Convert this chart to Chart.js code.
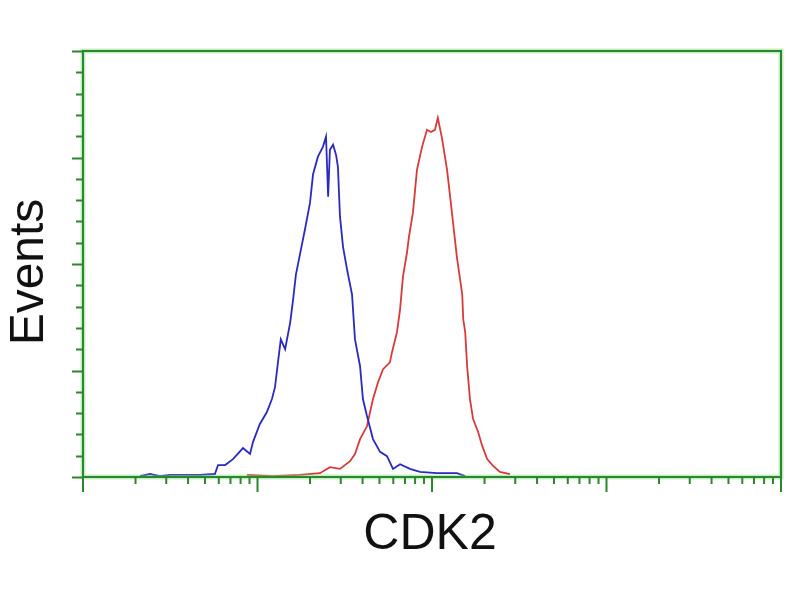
<!DOCTYPE html>
<html>
<head>
<meta charset="utf-8">
<script src="https://cdn.jsdelivr.net/npm/chart.js@4.4.1/dist/chart.umd.min.js"></script>
<style>
html,body{margin:0;padding:0;background:#fff;}
canvas{display:block;}
</style>
</head>
<body>
<canvas id="c" width="800" height="600"></canvas>
<script>
// Fluorescence intensity (log scale) and event counts (% of axis max)
const blueX = [2.12,2.42,2.76,3.15,3.94,4.68,5.70,5.94,6.52,7.24,8.26,9.06,9.42,10.3,11.3,12.1,12.6,13.1,13.6,14.4,15.4,16.0,16.6,17.5,18.7,20.0,20.8,22.2,23.7,24.7,25.4,26.0,27.1,28.2,28.9,29.7,30.9,32.6,34.8,36.2,38.7,40.2,42.4,45.9,50.4,55.2,59.8,65.6,74.8,85.3,107,139,155];
const blueY = [0.2,0.7,0.2,0.5,0.5,0.5,0.7,2.8,2.8,4.2,6.8,5.4,8.2,12.4,15.2,18.3,21.1,26.9,32.3,30.0,36.3,41.7,47.5,52.2,58.1,64.4,71.0,75.2,77.5,79.9,65.8,76.8,78.0,75.6,72.8,61.1,54.1,48.7,42.9,32.3,26.0,18.3,14.3,8.9,5.9,4.9,1.9,3.0,1.9,1.2,0.9,0.9,0.2];
const redX = [8.71,12.3,17.5,22.8,26.0,29.7,33.9,36.2,38.7,42.4,45.9,49.0,52.4,57.4,59.0,63.0,65.6,68.2,71.9,73.8,77.8,82.0,87.7,93.6,98.7,104,108,114,122,127,132,139,149,151,155,159,165,172,184,194,207,224,245,280];
const redY = [0.5,0.2,0.5,0.9,2.3,1.9,3.7,5.4,8.9,11.9,18.3,22.2,25.3,26.9,29.3,34.0,39.3,47.1,52.7,56.4,62.1,72.1,77.5,81.5,81.0,81.5,84.3,79.6,72.1,65.8,59.7,51.5,42.9,37.0,34.0,26.0,18.3,13.6,10.5,7.3,4.2,2.6,1.2,0.7];

const xMajorTicks = [1,10,100,1000,10000];
const xMinorMultipliers = [2,3,4,5,6,7,8,9];
const yMajorTicks = [0,25,50,75,100];
const yMinorStep = 5;
const xTitle = 'CDK2';
const yTitle = 'Events';

const toPts = (xs, ys) => xs.map((x,i)=>({x:x,y:ys[i]}));

const axisPlugin = {
  id:'flowAxes',
  afterDatasetsDraw(chart){
    const {ctx, chartArea:a, scales:{x, y}} = chart;
    ctx.save();
    const green = '#2c862c';
    ctx.strokeStyle = 'rgba(120,220,120,0.45)';
    ctx.lineWidth = 5;
    ctx.strokeRect(a.left, a.top, a.right-a.left, a.bottom-a.top);
    ctx.strokeStyle = green;
    ctx.lineWidth = 2;
    ctx.strokeRect(a.left, a.top, a.right-a.left, a.bottom-a.top);
    for(let v=0; v<=100; v+=yMinorStep){
      const py = Math.round(y.getPixelForValue(v))+0.5;
      const len = yMajorTicks.includes(v) ? 11 : 7;
      ctx.beginPath(); ctx.moveTo(a.left-len, py); ctx.lineTo(a.left, py); ctx.stroke();
    }
    xMajorTicks.forEach((d, i)=>{
      const px = x.getPixelForValue(d);
      ctx.beginPath(); ctx.moveTo(px, a.bottom); ctx.lineTo(px, a.bottom+15); ctx.stroke();
      if(i < xMajorTicks.length-1){
        xMinorMultipliers.forEach(m=>{
          const mx = x.getPixelForValue(d*m);
          ctx.beginPath(); ctx.moveTo(mx, a.bottom); ctx.lineTo(mx, a.bottom+7); ctx.stroke();
        });
      }
    });
    ctx.fillStyle = '#111';
    ctx.textAlign = 'center';
    ctx.textBaseline = 'middle';
    ctx.font = '50px "Liberation Sans", Arial, sans-serif';
    ctx.fillText(xTitle, 430, 535);
    ctx.font = '48px "Liberation Sans", Arial, sans-serif';
    ctx.translate(30, 272);
    ctx.rotate(-Math.PI/2);
    ctx.fillText(yTitle, 0, 0);
    ctx.restore();
  }
};

new Chart(document.getElementById('c'), {
  type:'line',
  data:{
    datasets:[
      {label:'Control', data:toPts(blueX, blueY), borderColor:'#2a2ac0', borderWidth:1.8, pointRadius:0, tension:0, fill:false},
      {label:'CDK2', data:toPts(redX, redY), borderColor:'#d83a3a', borderWidth:1.8, pointRadius:0, tension:0, fill:false}
    ]
  },
  options:{
    responsive:false,
    animation:false,
    layout:{padding:{left:83, top:51, right:19, bottom:123}},
    plugins:{legend:{display:false}, tooltip:{enabled:false}},
    scales:{
      x:{type:'logarithmic', min:1, max:10000, display:false},
      y:{type:'linear', min:0, max:100, display:false}
    }
  },
  plugins:[axisPlugin]
});
</script>
</body>
</html>
